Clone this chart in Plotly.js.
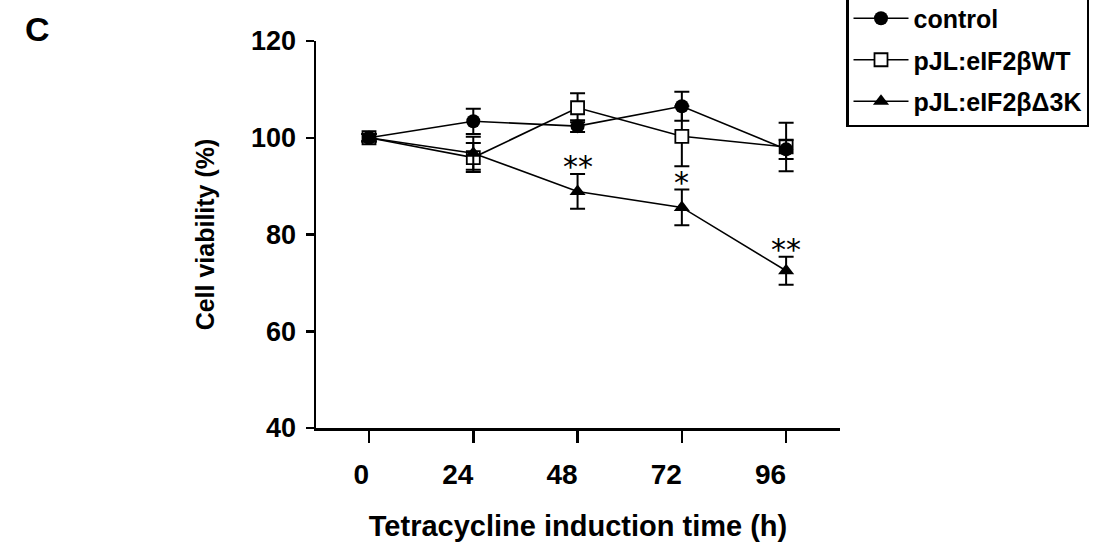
<!DOCTYPE html>
<html><head><meta charset="utf-8">
<script src="https://cdn.plot.ly/plotly-3.0.1.min.js"></script>
<style>html,body{margin:0;padding:0;background:#fff;}#chart{width:1095px;height:549px;}</style>
</head><body><div id="chart"></div>
<script>
const timeH = [0, 24, 48, 72, 96];
const xTickLabels = ['0', '24', '48', '72', '96'];
const yTickVals = [40, 60, 80, 100, 120];
const controlMean = [100, 103.4, 102.4, 106.5, 97.6];
const controlErr = [0.8, 2.6, 1.2, 3.0, 2.0];
const wtMean = [100, 95.9, 106.2, 100.3, 98.1];
const wtErr = [0.8, 3.0, 3.0, 6.2, 5.0];
const d3kMean = [100, 96.8, 88.9, 85.6, 72.5];
const d3kErr = [0.8, 3.4, 3.6, 3.7, 2.9];
const d3kSig = ['', '', '**', '*', '**'];
const seriesNames = ['control', 'pJL:eIF2βWT', 'pJL:eIF2βΔ3K'];

const FONT = 'Liberation Sans, Arial, sans-serif';
const NB = '\u00a0';
// tick labels in the original sit slightly left of their ticks
const xTickText = xTickLabels.map((t, i) => t + NB.repeat(i === 0 ? 2 : 4));
const errStyle = {type: 'data', visible: true, thickness: 2, width: 7.5, color: '#000'};

const traces = [
  {x: timeH, y: wtMean, name: seriesNames[1], type: 'scatter', mode: 'lines+markers',
   legendrank: 2, legendgroup: 'b',
   line: {color: '#000', width: 1.6},
   marker: {symbol: 'square', size: 13, color: '#fff', line: {color: '#000', width: 1.8}},
   error_y: Object.assign({array: wtErr}, errStyle)},
  {x: timeH, y: controlMean, name: seriesNames[0], type: 'scatter', mode: 'lines+markers',
   legendrank: 1, legendgroup: 'a',
   line: {color: '#000', width: 1.6},
   marker: {symbol: 'circle', size: 14, color: '#000'},
   error_y: Object.assign({array: controlErr}, errStyle)},
  {x: timeH, y: d3kMean, name: seriesNames[2], type: 'scatter', mode: 'lines+markers',
   legendrank: 3, legendgroup: 'c',
   line: {color: '#000', width: 1.6},
   marker: {symbol: 'triangle-up', size: 14, color: '#000'},
   error_y: Object.assign({array: d3kErr}, errStyle)}
];

const annotations = [];
d3kSig.forEach((s, i) => {
  if (!s) return;
  annotations.push({x: timeH[i], y: d3kMean[i] + d3kErr[i], xref: 'x', yref: 'y', text: s,
    showarrow: false, yanchor: 'bottom', yshift: -12,
    font: {family: 'DejaVu Sans, sans-serif', size: 30, color: '#000'}});
});
annotations.push({x: (37 - 316) / 524, y: (428 - 29) / 387, xref: 'paper', yref: 'paper', text: 'C',
  showarrow: false, xanchor: 'center', yanchor: 'middle',
  font: {family: FONT, size: 34, color: '#000', weight: 'bold'}});

const layout = {
  width: 1095, height: 549,
  margin: {l: 316, r: 255, t: 41, b: 121},
  paper_bgcolor: '#fff', plot_bgcolor: '#fff',
  font: {family: FONT, color: '#000'},
  showlegend: true,
  legend: {xref: 'container', yref: 'container', x: 846/1095, y: (549-127)/549,
    xanchor: 'left', yanchor: 'bottom', bgcolor: '#fff', bordercolor: '#000', borderwidth: 2.5,
    tracegroupgap: 6, traceorder: 'grouped', itemwidth: 55,
    font: {family: FONT, size: 25, color: '#000', weight: 'bold'}},
  xaxis: {range: [-12.2, 108.4], tickmode: 'array', tickvals: timeH, ticktext: xTickText,
    showgrid: false, zeroline: false, showline: true, linecolor: '#000', linewidth: 2.5,
    ticks: 'outside', ticklen: 12, tickwidth: 2.5, tickcolor: '#000', ticklabelstandoff: 8,
    tickfont: {family: FONT, size: 28, color: '#000', weight: 'bold'},
    title: {text: 'Tetracycline induction time (h)', standoff: 27,
      font: {family: FONT, size: 29, color: '#000', weight: 'bold'}}},
  yaxis: {range: [40, 120], tickmode: 'array', tickvals: yTickVals,
    showgrid: false, zeroline: false, showline: true, linecolor: '#000', linewidth: 2.5,
    ticks: 'outside', ticklen: 8, tickwidth: 2.5, tickcolor: '#000', ticklabelstandoff: 4,
    tickfont: {family: FONT, size: 27, color: '#000', weight: 'bold'},
    title: {text: 'Cell viability (%)', standoff: 30,
      font: {family: FONT, size: 25, color: '#000', weight: 'bold'}}},
  annotations: annotations
};

Plotly.newPlot('chart', traces, layout, {displayModeBar: false, staticPlot: true});
</script></body></html>
